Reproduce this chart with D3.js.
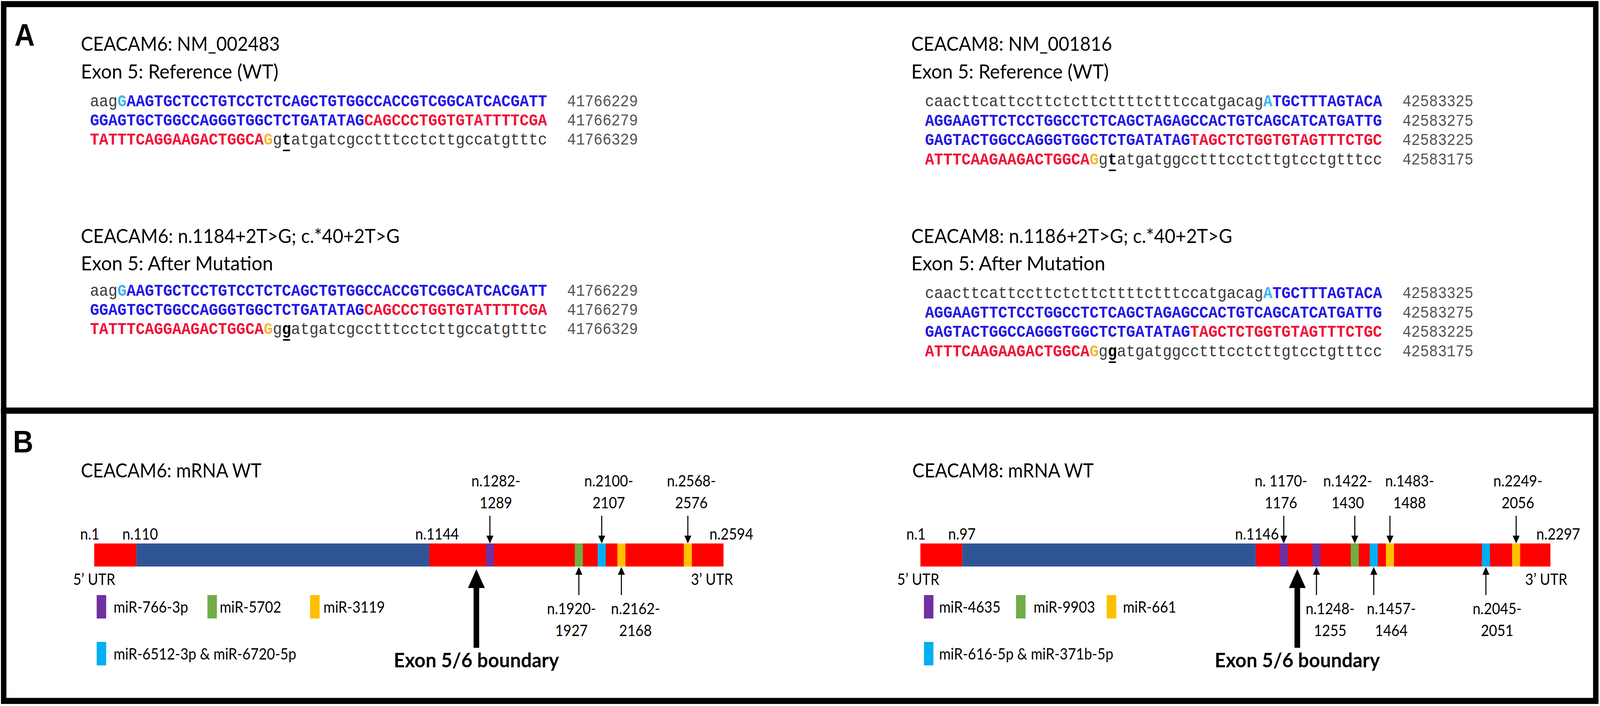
<!DOCTYPE html>
<html><head><meta charset="utf-8">
<script src="https://cdn.jsdelivr.net/npm/d3@7"></script>
<style>html,body{margin:0;padding:0;background:#fff;overflow:hidden}svg{display:block;width:100vw;height:100vh}</style>
</head><body>
<svg id="fig" viewBox="0 0 4551 1807" preserveAspectRatio="none"></svg>
<script>
// ---------------- DATA ----------------
const panelLabels = ["A", "B"];
const refTitles = ["CEACAM6: NM_002483", "CEACAM8: NM_001816"];
const refSubtitle = "Exon 5: Reference (WT)";
const mutTitles = ["CEACAM6: n.1184+2T>G; c.*40+2T>G", "CEACAM8: n.1186+2T>G; c.*40+2T>G"];
const mutSubtitle = "Exon 5: After Mutation";

// sequence rows: [text, kind]
const c6RefRows = [
  [["aag","intron"],["G","start"],["AAGTGCTCCTGTCCTCTCAGCTGTGGCCACCGTCGGCATCACGATT","blue"]],
  [["GGAGTGCTGGCCAGGGTGGCTCTGATATAG","blue"],["CAGCCCTGGTGTATTTTCGA","red"]],
  [["TATTTCAGGAAGACTGGCA","red"],["G","end"],["g","intron"],["t","site"],["atgatcgcctttcctcttgccatgtttc","intron"]]
];
const c6MutRows = [
  [["aag","intron"],["G","start"],["AAGTGCTCCTGTCCTCTCAGCTGTGGCCACCGTCGGCATCACGATT","blue"]],
  [["GGAGTGCTGGCCAGGGTGGCTCTGATATAG","blue"],["CAGCCCTGGTGTATTTTCGA","red"]],
  [["TATTTCAGGAAGACTGGCA","red"],["G","end"],["g","intron"],["g","site"],["atgatcgcctttcctcttgccatgtttc","intron"]]
];
const c6Coords = ["41766229", "41766279", "41766329"];

const c8RefRows = [
  [["caacttcattccttctcttcttttctttccatgacag","intron"],["A","start"],["TGCTTTAGTACA","blue"]],
  [["AGGAAGTTCTCCTGGCCTCTCAGCTAGAGCCACTGTCAGCATCATGATTG","blue"]],
  [["GAGTACTGGCCAGGGTGGCTCTGATATAG","blue"],["TAGCTCTGGTGTAGTTTCTGC","red"]],
  [["ATTTCAAGAAGACTGGCA","red"],["G","end"],["g","intron"],["t","site"],["atgatggcctttcctcttgtcctgtttcc","intron"]]
];
const c8MutRows = [
  [["caacttcattccttctcttcttttctttccatgacag","intron"],["A","start"],["TGCTTTAGTACA","blue"]],
  [["AGGAAGTTCTCCTGGCCTCTCAGCTAGAGCCACTGTCAGCATCATGATTG","blue"]],
  [["GAGTACTGGCCAGGGTGGCTCTGATATAG","blue"],["TAGCTCTGGTGTAGTTTCTGC","red"]],
  [["ATTTCAAGAAGACTGGCA","red"],["G","end"],["g","intron"],["g","site"],["atgatggcctttcctcttgtcctgtttcc","intron"]]
];
const c8Coords = ["42583325", "42583275", "42583225", "42583175"];

// Panel B
const mrnaTitles = ["CEACAM6: mRNA WT", "CEACAM8: mRNA WT"];
const c6Landmarks = [1, 110, 1144, 2594];
const c8Landmarks = [1, 97, 1146, 2297];
const c6Segments = [[1,110,"utr"],[110,1144,"cds"],[1144,2594,"utr"]];
const c8Segments = [[1,97,"utr"],[97,1146,"cds"],[1146,2297,"utr"]];
const c6Boundary = 1184;
const c8Boundary = 1186;
// [start, end, miRNA key, side, label line 1, label line 2]
const c6Motifs = [
  [1282, 1289, "m766", "top", "n.1282-", "1289"],
  [1920, 1927, "m5702", "bottom", "n.1920-", "1927"],
  [2100, 2107, "m6512", "top", "n.2100-", "2107"],
  [2162, 2168, "m3119", "bottom", "n.2162-", "2168"],
  [2568, 2576, "m3119", "top", "n.2568-", "2576"]
];
const c8Motifs = [
  [1170, 1176, "m4635", "top", "n. 1170-", "1176"],
  [1248, 1255, "m4635", "bottom", "n.1248-", "1255"],
  [1422, 1430, "m9903", "top", "n.1422-", "1430"],
  [1457, 1464, "m616", "bottom", "n.1457-", "1464"],
  [1483, 1488, "m661", "top", "n.1483-", "1488"],
  [2045, 2051, "m616", "bottom", "n.2045-", "2051"],
  [2249, 2056, "m661", "top", "n.2249-", "2056"]
];
const c6Legend = [["m766","miR-766-3p"],["m5702","miR-5702"],["m3119","miR-3119"],["m6512","miR-6512-3p & miR-6720-5p"]];
const c8Legend = [["m4635","miR-4635"],["m9903","miR-9903"],["m661","miR-661"],["m616","miR-616-5p & miR-371b-5p"]];
const boundaryLabel = "Exon 5/6 boundary";
const utr5 = "5\u2019 UTR", utr3 = "3\u2019 UTR";

// ---------------- STYLE / LAYOUT ----------------
const seqColors = {intron:"#3a3a3a", start:"#3fb6ea", blue:"#2417e6", red:"#f01238", end:"#f4b935", site:"#000"};
const segColors = {utr:"#ff0000", cds:"#2f5597"};
const mirColors = {m766:"#7030a0", m4635:"#7030a0", m5702:"#70ad47", m9903:"#70ad47",
  m3119:"#ffc000", m661:"#ffc000", m6512:"#00b0f0", m616:"#00b0f0"};
const SANS = "Lato, Carlito, 'Open Sans', sans-serif";
const MONO = "'Liberation Mono', 'DejaVu Sans Mono', monospace";
const charW = 26;
const seqFont = charW / 0.6;

const svg = d3.select("#fig");
svg.append("rect").attr("width",4551).attr("height",1807).attr("fill","#fff");

// frames
svg.append("rect").attr("x",10.5).attr("y",10.5).attr("width",4528.5).attr("height",1040.5)
  .attr("fill","none").attr("stroke","#000").attr("stroke-width",15.5);
svg.append("rect").attr("x",10.5).attr("y",1051).attr("width",4528.5).attr("height",743)
  .attr("fill","none").attr("stroke","#000").attr("stroke-width",15.5);

svg.selectAll("text.panel").data(panelLabels).join("text").attr("class","panel")
  .attr("x",(d,i)=>i?37:41).attr("y",(d,i)=>i?1158:117)
  .attr("font-family","'Liberation Sans', Arial, sans-serif").attr("font-weight","bold")
  .attr("font-size",80).text(d=>d);

function title(x, y, txt, len, opts={}) {
  const t = svg.append("text").attr("x",x).attr("y",y).attr("font-family",SANS)
    .attr("font-size",opts.size||50).attr("font-weight",opts.bold?"bold":"normal")
    .attr("text-anchor",opts.anchor||"start").text(txt);
  if (len) t.attr("textLength",len).attr("lengthAdjust","spacingAndGlyphs");
  return t;
}

function seqBlock(x0, baselines, rows, coords, numX) {
  rows.forEach((row, ri) => {
    const y = baselines[ri];
    const t = svg.append("text").attr("x",x0).attr("y",y).attr("font-family",MONO)
      .attr("font-size",seqFont).attr("xml:space","preserve");
    t.selectAll("tspan").data(row).join("tspan")
      .attr("fill",d=>seqColors[d[1]])
      .attr("font-weight",d=>(d[1]==="intron")?"normal":"bold")
      .text(d=>d[0]);
    let idx = 0;
    row.forEach(seg => {
      if (seg[1]==="site") {
        svg.append("rect").attr("x",x0+idx*charW+3).attr("y",y+13)
          .attr("width",charW-6).attr("height",4).attr("fill","#000");
      }
      idx += seg[0].length;
    });
    svg.append("text").attr("x",numX).attr("y",y).attr("font-family",MONO)
      .attr("font-size",42).attr("fill","#555").text(coords[ri]);
  });
}

// Panel A
const aLayout = [
  {x:230, seqX:256, numX:1613, refRows:c6RefRows, mutRows:c6MutRows, coords:c6Coords,
   refW:[566,562], mutW:[907,547], refBase:[272,321,370], mutBase:[757,806,855]},
  {x:2592, seqX:2631, numX:3989, refRows:c8RefRows, mutRows:c8MutRows, coords:c8Coords,
   refW:[571,562], mutW:[913,552], refBase:[272,322,371,421], mutBase:[763,813,862,912]}
];
aLayout.forEach((L, i) => {
  title(L.x, 130, refTitles[i], L.refW[0]);
  title(L.x, 201, refSubtitle, L.refW[1]);
  seqBlock(L.seqX, L.refBase, L.refRows, L.coords, L.numX);
  title(L.x, 622, mutTitles[i], L.mutW[0]);
  title(L.x, 692, mutSubtitle, L.mutW[1]);
  seqBlock(L.seqX, L.mutBase, L.mutRows, L.coords, L.numX);
});

// Panel B
const barTop = 1391, barH = 59, motifW = 23;
const bLayout = [
  {titleX:230, titleW:514, landmarks:c6Landmarks, segments:c6Segments, motifs:c6Motifs,
   boundary:c6Boundary, legend:c6Legend,
   stops:[268,388,1221,1355,1382,1635,1700,1756,1945,2058],
   labelDx:{}, dx:{1282:17,1920:-21,2100:20,2162:40,2568:10},
   utr5X:208, utr3X:2085,
   legendPos:[[275,323,0],[590,625,0],[882,920,0],[275,323,1]]},
  {titleX:2595, titleW:516, landmarks:c8Landmarks, segments:c8Segments, motifs:c8Motifs,
   boundary:c8Boundary, legend:c8Legend,
   stops:[2618,2737,3572,3640,3690,3733,3842,3896,3942,4215,4301,4410],
   labelDx:{1146:-59}, dx:{1170:-8,1248:39,1422:-20,1457:50,1483:56,2045:32,2249:5},
   utr5X:2552, utr3X:4458,
   legendPos:[[2628,2671,0],[2890,2940,0],[3148,3194,0],[2628,2671,1]]}
];

bLayout.forEach((L, i) => {
  title(L.titleX, 1222, mrnaTitles[i], L.titleW);
  const domain = Array.from(new Set([...L.landmarks, L.boundary, ...L.motifs.map(m=>m[0])])).sort((a,b)=>a-b);
  const x = d3.scaleLinear().domain(domain).range(L.stops);
  const g = svg.append("g");

  g.selectAll("rect.seg").data(L.segments).join("rect").attr("class","seg")
    .attr("x",d=>x(d[0])).attr("y",barTop).attr("width",d=>x(d[1])-x(d[0])).attr("height",barH)
    .attr("fill",d=>segColors[d[2]]);
  g.selectAll("rect.mot").data(L.motifs).join("rect").attr("class","mot")
    .attr("x",d=>x(d[0])).attr("y",barTop).attr("width",motifW).attr("height",barH)
    .attr("fill",d=>mirColors[d[2]]);

  // landmark labels
  g.selectAll("text.lm").data(L.landmarks).join("text").attr("class","lm")
    .attr("x",d=>x(d)+(L.labelDx[d]!==undefined?L.labelDx[d]:-40)).attr("y",1381)
    .attr("font-family",SANS).attr("font-size",40).text(d=>"n."+d);

  // motif arrows and labels
  L.motifs.forEach(m => {
    const cx = x(m[0]) + motifW/2;
    const top = m[3]==="top";
    const y1 = top ? 1320 : 1523;
    const tip = top ? barTop : barTop+barH+1;
    const base = top ? tip-20 : tip+20;
    g.append("line").attr("x1",cx).attr("x2",cx).attr("y1",y1).attr("y2",base)
      .attr("stroke","#000").attr("stroke-width",3);
    g.append("path").attr("d",`M${cx-10},${base}L${cx+10},${base}L${cx},${tip}Z`).attr("fill","#000");
    const lx = cx + (L.dx[m[0]]||0);
    const ys = top ? [1245,1301] : [1572,1628];
    [m[4], m[5]].forEach((s,k) => {
      g.append("text").attr("x",lx).attr("y",ys[k]).attr("text-anchor","middle")
        .attr("font-family",SANS).attr("font-size",40).text(s);
    });
  });

  // UTR labels
  title(L.utr5X, 1497, utr5, null, {size:40});
  title(L.utr3X, 1497, utr3, null, {size:40, anchor:"end"});

  // exon boundary arrow
  const bx = x(L.boundary);
  g.append("path").attr("d",
    `M${bx-8},1658L${bx-8},1505L${bx-24},1505L${bx},1457L${bx+24},1505L${bx+8},1505L${bx+8},1658Z`)
    .attr("fill","#000");
  title(bx, 1708, boundaryLabel, 470, {size:52, bold:true, anchor:"middle"});

  // legend
  L.legend.forEach((it, k) => {
    const p = L.legendPos[k];
    const ry = p[2] ? 1643 : 1523;
    g.append("rect").attr("x",p[0]).attr("y",ry).attr("width",27).attr("height",60)
      .attr("fill",mirColors[it[0]]);
    g.append("text").attr("x",p[1]).attr("y",ry+45).attr("font-family",SANS)
      .attr("font-size",40).text(it[1]);
  });
});
</script>
</body></html>
